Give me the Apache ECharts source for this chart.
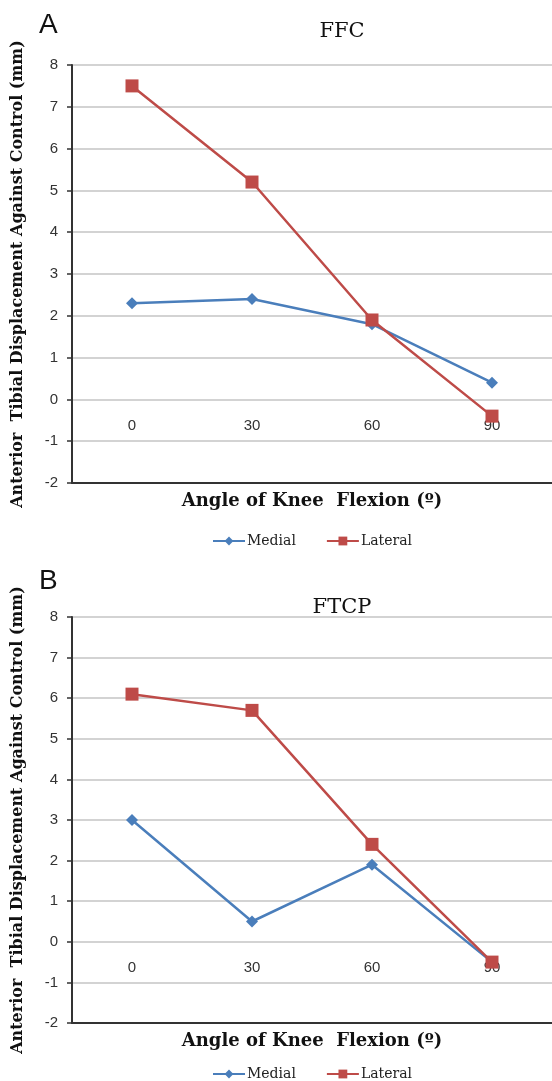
<!DOCTYPE html>
<html>
<head>
<meta charset="utf-8">
<script src="https://cdn.jsdelivr.net/npm/echarts@6/dist/echarts.min.js"></script>
<style>
  html, body { margin: 0; padding: 0; background: #fff; }
  #chart { width: 552px; height: 1081px; }
</style>
</head>
<body>
<div id="chart"></div>
<script>
// categories (angle of knee flexion)
const angles = ['0', '30', '60', '90']

// panel A - FFC
const ffcMedial = [2.3, 2.4, 1.8, 0.4]
const ffcLateral = [7.5, 5.2, 1.9, -0.4]

// panel B - FTCP
const ftcpMedial = [3.0, 0.5, 1.9, -0.5]
const ftcpLateral = [6.1, 5.7, 2.4, -0.5]

const yMin = -2
const yMax = 8

const blue = '#4A7EBB'
const red = '#BE4B48'
const serif = "'DejaVu Serif', 'Liberation Serif', serif"
const sans = "'Liberation Sans', Arial, sans-serif"

const chart = echarts.init(document.getElementById('chart'))

const grids = [
  { left: 72, right: -4, top: 65, height: 418 },
  { left: 72, right: -4, top: 617, height: 406 }
]

// x axis sits at the bottom (dark line), labels are pulled up to just under the zero line
function makeXAxis (gridIndex) {
  const h = grids[gridIndex].height
  const zeroFromBottom = h * (0 - yMin) / (yMax - yMin)
  return {
    type: 'category',
    gridIndex: gridIndex,
    data: angles,
    boundaryGap: true,
    axisLine: { show: true, onZero: false, lineStyle: { color: '#333', width: 2 } },
    axisTick: { show: false },
    axisLabel: { color: '#333', fontFamily: sans, fontSize: 15, margin: -(zeroFromBottom - 19) },
    name: 'Angle of Knee  Flexion (º)',
    nameLocation: 'middle',
    nameGap: 9,
    nameTextStyle: { color: '#111', fontFamily: serif, fontSize: 18, fontWeight: 'bold' }
  }
}

function makeYAxis (gridIndex) {
  return {
    type: 'value',
    gridIndex: gridIndex,
    min: yMin,
    max: yMax,
    interval: 1,
    name: 'Anterior  Tibial Displacement Against Control (mm)',
    nameLocation: 'middle',
    nameRotate: 90,
    nameGap: 46,
    nameTextStyle: { color: '#111', fontFamily: serif, fontSize: 16, fontWeight: 'bold' },
    axisLine: { show: true, lineStyle: { color: '#333', width: 2 } },
    axisTick: { show: true, length: 5, lineStyle: { color: '#333', width: 1.5 } },
    axisLabel: { color: '#333', fontFamily: sans, fontSize: 15, margin: 14 },
    splitLine: { show: true, lineStyle: { color: '#c4c4c4', width: 1.5 } }
  }
}

function makeSeries (name, data, color, symbol, size, axisIndex) {
  return {
    name: name,
    type: 'line',
    xAxisIndex: axisIndex,
    yAxisIndex: axisIndex,
    data: data,
    symbol: symbol,
    symbolSize: size,
    lineStyle: { color: color, width: 2.5 },
    itemStyle: { color: color },
    z: name === 'Lateral' ? 3 : 2
  }
}

function makeLegend (top) {
  return {
    data: ['Medial', 'Lateral'],
    left: 207,
    top: top,
    itemWidth: 32,
    itemHeight: 11,
    itemGap: 30,
    textStyle: { fontFamily: serif, fontSize: 14, color: '#222', padding: [0, 0, 0, -3] }
  }
}

chart.setOption({
  animation: false,
  title: [
    { text: 'A', left: 34, top: 6, textStyle: { fontFamily: sans, fontSize: 28, fontWeight: 'normal', color: '#111' } },
    { text: 'FFC', left: 337, top: 16, textAlign: 'center', textStyle: { fontFamily: serif, fontSize: 21, fontWeight: 'normal', color: '#111' } },
    { text: 'B', left: 34, top: 562, textStyle: { fontFamily: sans, fontSize: 28, fontWeight: 'normal', color: '#111' } },
    { text: 'FTCP', left: 337, top: 592, textAlign: 'center', textStyle: { fontFamily: serif, fontSize: 21, fontWeight: 'normal', color: '#111' } }
  ],
  legend: [makeLegend(529), makeLegend(1062)],
  grid: grids,
  xAxis: [makeXAxis(0), makeXAxis(1)],
  yAxis: [makeYAxis(0), makeYAxis(1)],
  series: [
    makeSeries('Medial', ffcMedial, blue, 'diamond', 12, 0),
    makeSeries('Lateral', ffcLateral, red, 'rect', 13, 0),
    makeSeries('Medial', ftcpMedial, blue, 'diamond', 12, 1),
    makeSeries('Lateral', ftcpLateral, red, 'rect', 13, 1)
  ]
})
</script>
</body>
</html>
